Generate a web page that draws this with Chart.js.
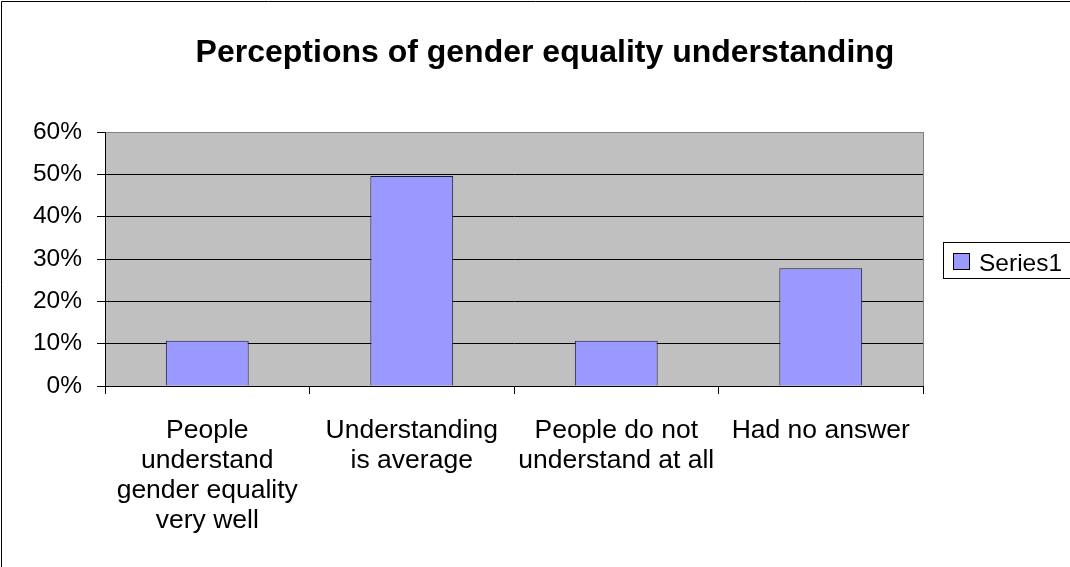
<!DOCTYPE html>
<html>
<head>
<meta charset="utf-8">
<script src="https://cdn.jsdelivr.net/npm/chart.js@4"></script>
<style>
  html, body { margin: 0; padding: 0; background: #fff; }
  canvas { display: block; }
</style>
</head>
<body>
<canvas id="c" width="1070" height="567" style="width:1070px;height:567px"></canvas>
<script>
const chartTitle = "Perceptions of gender equality understanding";
const categories = [
  ["People", "understand", "gender equality", "very well"],
  ["Understanding", "is average"],
  ["People do not", "understand at all"],
  ["Had no answer"]
];
const seriesName = "Series1";
const seriesValues = [0.107, 0.496, 0.107, 0.278];
const yTickLabels = ["0%", "10%", "20%", "30%", "40%", "50%", "60%"];

const FONT = "'Liberation Sans', Arial, sans-serif";

const decor = {
  id: 'decor',
  beforeDraw(chart) {
    const ctx = chart.ctx, a = chart.chartArea;
    ctx.save();
    ctx.fillStyle = '#fff';
    ctx.fillRect(0, 0, chart.width, chart.height);
    ctx.fillStyle = '#C0C0C0';
    ctx.fillRect(a.left, a.top, a.right - a.left, a.bottom - a.top);
    ctx.restore();
  },
  afterDraw(chart) {
    const ctx = chart.ctx, a = chart.chartArea;
    ctx.save();
    // plot right border
    ctx.strokeStyle = '#808080';
    ctx.lineWidth = 1;
    ctx.beginPath();
    ctx.moveTo(Math.round(a.right) + 0.5, a.top);
    ctx.lineTo(Math.round(a.right) + 0.5, a.bottom);
    ctx.stroke();
    // outer chart frame (left and top edges visible in the crop)
    ctx.strokeStyle = '#000';
    ctx.beginPath();
    ctx.moveTo(1.5, chart.height);
    ctx.lineTo(1.5, 1.5);
    ctx.lineTo(chart.width, 1.5);
    ctx.stroke();
    // title
    ctx.fillStyle = '#000';
    ctx.font = 'bold 32px ' + FONT;
    ctx.textAlign = 'center';
    ctx.textBaseline = 'alphabetic';
    ctx.fillText(chartTitle, 545, 62);
    // legend
    const ds = chart.data.datasets[0];
    ctx.strokeStyle = '#000';
    ctx.strokeRect(943.5, 242.5, 140, 36);
    ctx.fillStyle = ds.backgroundColor;
    ctx.fillRect(953, 253, 17, 17);
    ctx.strokeRect(953.5, 253.5, 16, 16);
    ctx.fillStyle = '#000';
    ctx.font = '24.5px ' + FONT;
    ctx.textAlign = 'left';
    ctx.fillText(ds.label, 979, 271);
    ctx.restore();
  }
};

new Chart(document.getElementById('c'), {
  type: 'bar',
  data: {
    labels: categories,
    datasets: [{
      label: seriesName,
      data: seriesValues,
      backgroundColor: '#9999FF',
      borderColor: '#1a1a33',
      borderWidth: 1,
      categoryPercentage: 1,
      barPercentage: 0.405
    }]
  },
  options: {
    responsive: false,
    animation: false,
    devicePixelRatio: 1,
    layout: { padding: { top: 132, right: 147, left: 0, bottom: 0 } },
    plugins: {
      legend: { display: false },
      title: { display: false },
      tooltip: { enabled: false }
    },
    scales: {
      x: {
        afterFit(s) { s.height = 181; },
        grid: {
          offset: true,
          drawOnChartArea: false,
          drawTicks: true,
          tickLength: 8,
          tickColor: '#000',
          color: '#000'
        },
        border: { display: true, color: '#000', width: 1 },
        ticks: {
          color: '#000',
          padding: 22,
          maxRotation: 0,
          autoSkip: false,
          font: { family: FONT, size: 26.5, lineHeight: 1.13 }
        }
      },
      y: {
        min: 0,
        max: 0.6,
        afterFit(s) { s.width = 105; },
        grid: {
          color: (c) => (c.tick && c.tick.value >= 0.599) ? '#808080' : '#000',
          tickColor: '#000',
          tickLength: 8,
          lineWidth: 1
        },
        border: { display: true, color: '#000', width: 1 },
        ticks: {
          stepSize: 0.1,
          color: '#000',
          padding: 15,
          font: { family: FONT, size: 24.5 },
          callback: (v, i) => yTickLabels[i]
        }
      }
    }
  },
  plugins: [decor]
});
</script>
</body>
</html>
